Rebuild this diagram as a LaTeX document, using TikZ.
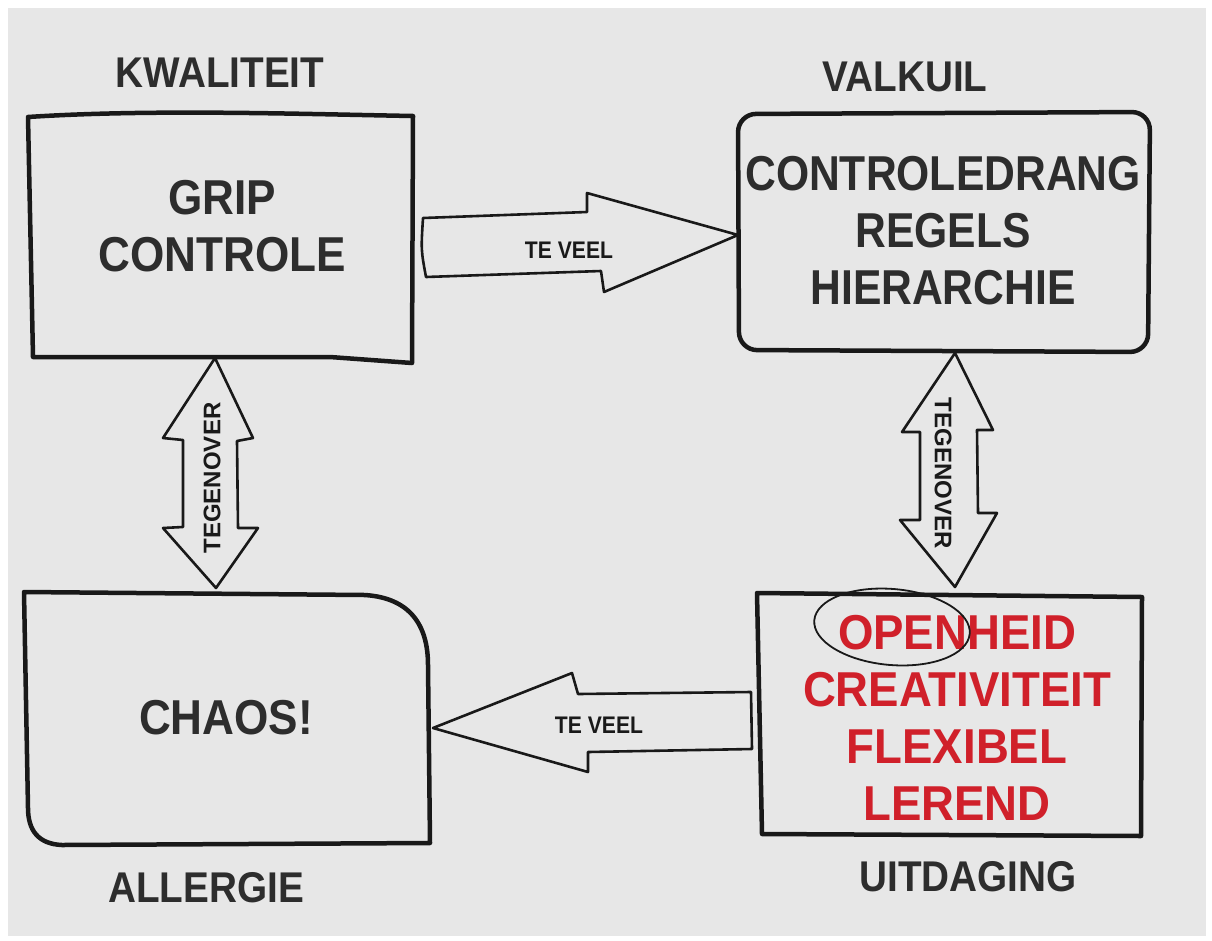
\documentclass[tikz,border=0pt]{standalone}
\usepackage{fontspec}
\setmainfont{Liberation Sans}
\definecolor{bg}{RGB}{231,231,231}
\definecolor{ink}{RGB}{25,25,25}
\definecolor{txt}{RGB}{45,45,45}
\definecolor{rood}{RGB}{208,32,42}
\newcommand{\nx}[2]{\scalebox{#1}[1]{#2}}
\tikzset{
  boxline/.style={draw=ink, line width=4.5pt, line join=round, line cap=round},
  arrline/.style={draw=ink, line width=2.6pt, line join=round, fill=bg},
  head/.style={text=txt, font=\bfseries\fontsize{43}{43}\selectfont, inner sep=0pt},
  body/.style={text=txt, font=\bfseries\fontsize{49}{57}\selectfont, align=center, inner sep=0pt},
  redbody/.style={text=rood, font=\bfseries\fontsize{49}{57}\selectfont, align=center, inner sep=0pt},
  small/.style={text=ink, font=\bfseries\fontsize{24}{24}\selectfont, inner sep=0pt},
}
\begin{document}
\begin{tikzpicture}[x=1pt,y=-1pt]
\useasboundingbox (0,0) rectangle (1212,940);
\fill[white] (0,0) rectangle (1212,940);
\fill[bg] (8,8) rectangle (1206,936);

% boxes
\draw[boxline] (28,117) .. controls (150,109) and (300,114) .. (413,116) -- (412,363) -- (330,357) -- (33,357) -- cycle;
\draw[boxline, rounded corners=18pt] (738,114) -- (1150,112) -- (1148,352) -- (739,350) -- cycle;
\draw[boxline] (24,592) -- (365,595) .. controls (410,598) and (428,625) .. (428,665) -- (430,843) -- (62,845) .. controls (38,844) and (28,830) .. (28,808) -- cycle;
\draw[boxline] (757,593) -- (1142,597) -- (1141,836) -- (762,834) -- cycle;

% headings
\node[head] (kw) at (220,73) {\nx{0.9}{KWALITEIT}};
\node[head] (vk) at (905,77) {\nx{0.9}{VALKUIL}};
\node[head] (al) at (206,888) {\nx{0.9}{ALLERGIE}};
\node[head] (ui) at (968,877) {\nx{0.9}{UITDAGING}};

% texts
\node[body] (t1) at (222,226) {\nx{0.9}{GRIP}\\\nx{0.9}{CONTROLE}};
\node[body] (t2) at (943,231) {\nx{0.87}{CONTROLEDRANG}\\\nx{0.87}{REGELS}\\\nx{0.87}{HIERARCHIE}};
\node[body] (t3) at (226,718) {\nx{0.9}{CHAOS!}};
\node[redbody] (t4) at (957,718) {\nx{0.93}{OPENHEID}\\\nx{0.93}{CREATIVITEIT}\\\nx{0.93}{FLEXIBEL}\\\nx{0.93}{LEREND}};

% right arrow (top)
\draw[arrline] (423,218) -- (587,212) -- (587,193) -- (738,235) -- (604,292) -- (601,271) -- (426,277) .. controls (421,250) .. cycle;
\node[small] (a1) at (569,250) {\nx{0.88}{TE VEEL}};

% left arrow (bottom)
\draw[arrline] (433,728) -- (572,673) -- (578,694) -- (751,692) -- (752,749) -- (588,752) -- (588,772) -- cycle;
\node[small] (a2) at (599,725) {\nx{0.88}{TE VEEL}};

% left vertical double arrow
\draw[arrline] (215,358) -- (253,438) -- (237,441) -- (238,528) -- (258,528) -- (216,588) -- (163,528) -- (183,527) -- (183,440) -- (163,438) -- cycle;
\node[small, rotate=90] (a3) at (212,478) {TEGENOVER};

% right vertical double arrow
\draw[arrline] (955,353) -- (993,430) -- (977,430) -- (978,513) -- (997,513) -- (955,587) -- (900,520) -- (920,520) -- (920,432) -- (902,432) -- cycle;
\node[small, rotate=-90] (a4) at (943,473) {TEGENOVER};

% ellipse around OPEN
\draw[draw=ink, line width=1.8pt, rotate around={-5:(892,627)}] (892,627) ellipse [x radius=78, y radius=38];
\end{tikzpicture}
\end{document}
